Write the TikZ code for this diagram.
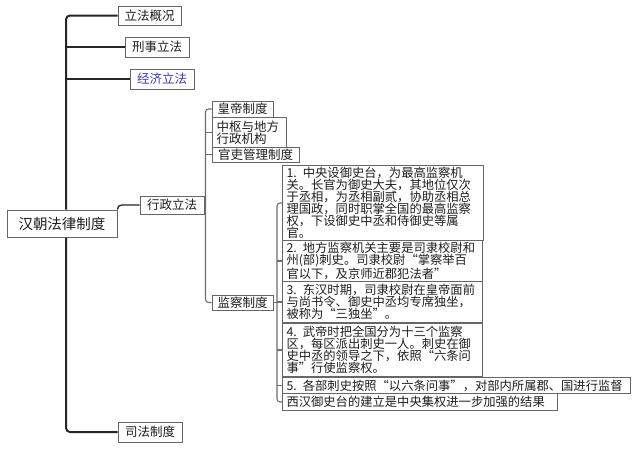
\documentclass[tikz,border=0pt]{standalone}
\usepackage{fontspec}
\setmainfont{Noto Sans CJK SC}
\definecolor{boxc}{HTML}{666666}
\definecolor{txt}{HTML}{1E1E1E}
\definecolor{blu}{HTML}{3A3AA8}
\definecolor{spinec}{HTML}{262626}
\definecolor{linec}{HTML}{6E6E6E}
\begin{document}
\begin{tikzpicture}[x=1pt,y=-1pt,
  box/.style={draw=boxc, line width=1pt, fill=white, inner sep=0pt, text=txt,
    font=\fontsize{12.5}{13}\selectfont},
  tbox/.style={box, anchor=north west, align=left, inner xsep=4pt, inner ysep=0pt,
    font=\fontsize{12.3}{11.9}\selectfont},
  spine/.style={draw=spinec, line width=2pt, rounded corners=4pt},
  br1/.style={draw=spinec, line width=1.3pt, rounded corners=4pt},
  br2/.style={draw=linec, line width=1.1pt, rounded corners=3pt}]
\useasboundingbox[fill=white] (0,0) rectangle (640,448);
\coordinate (sp) at (66,0);
\coordinate (v2) at (205.5,0);
\coordinate (v3) at (277,0);
% level 1
\node[box, minimum width=63pt, minimum height=19pt] (lf) at (149.5,15.5) {立法概况};
\node[box, minimum width=64pt, minimum height=20pt] (xs) at (157,47) {刑事立法};
\node[box, minimum width=64pt, minimum height=20pt, text=blu] (jj) at (162,79) {经济立法};
\node[box, minimum width=110pt, minimum height=27pt, font=\fontsize{14.5}{15}\selectfont] (hc) at (62,223.5) {汉朝法律制度};
\node[box, minimum width=64pt, minimum height=18pt] (xz) at (172,205) {行政立法};
\node[box, minimum width=64pt, minimum height=20pt] (sf) at (150,432) {司法制度};
% level 2
\node[box, minimum width=61pt, minimum height=16pt] (hd) at (242.5,109) {皇帝制度};
\node[box, anchor=north west, align=left, inner xsep=4pt, text width=66pt, minimum height=30pt,
  font=\fontsize{12.5}{12.5}\selectfont] (zs) at (212,117) {中枢与地方\\行政机构};
\node[box, minimum width=87pt, minimum height=15pt] (gl) at (255.5,154.5) {官吏管理制度};
\node[box, minimum width=61pt, minimum height=15pt] (jc) at (242.5,302.5) {监察制度};
% level 3
\node[tbox, text width=193pt, minimum height=75pt] (b1) at (282,165)
 {1. 中央设御史台，为最高监察机\\关。长官为御史大夫，其地位仅次\\于丞相，为丞相副贰，协助丞相总\\理国政，同时职掌全国的最高监察\\权，下设御史中丞和侍御史等属\\官。};
\node[tbox, text width=192pt, minimum height=41pt] (b2) at (282,240)
 {2. 地方监察机关主要是司隶校尉和\\州(部)刺史。司隶校尉“掌察举百\\官以下，及京师近郡犯法者”};
\node[tbox, text width=192pt, minimum height=41pt] (b3) at (282,281)
 {3. 东汉时期，司隶校尉在皇帝面前\\与尚书令、御史中丞均专席独坐，\\被称为“三独坐”。};
\node[tbox, text width=192pt, minimum height=53pt] (b4) at (282,323)
 {4. 武帝时把全国分为十三个监察\\区，每区派出刺史一人。刺史在御\\史中丞的领导之下，依照“六条问\\事”行使监察权。};
\node[tbox, text width=340pt, minimum height=16pt] (b5) at (282,377)
 {5. 各部刺史按照“以六条问事”，对部内所属郡、国进行监督};
\node[tbox, text width=267pt, minimum height=17pt] (b6) at (282,393)
 {西汉御史台的建立是中央集权进一步加强的结果};
% level 1 connectors
\draw[spine] (lf.west) -| (hc.north -| sp);
\draw[br1] (xs.west) -- (xs.west -| sp);
\draw[br1] (jj.west) -- (jj.west -| sp);
\draw[spine] (hc.south -| sp) |- (sf.west);
\draw[br1] (hc.north east) |- (xz.west);
% level 2 connectors
\draw[br2] (hd.west) -| (xz.east -| v2) |- (jc.west);
\draw[br2] (zs.west) -- (zs.west -| v2);
\draw[br2] (gl.west) -- (gl.west -| v2);
\draw[br2] (xz.east) -- (xz.east -| v2);
% level 3 connectors
\draw[br2] (b1.west) -| (b3.west -| v3) |- (b6.west);
\draw[br2] (b2.west) -- (b2.west -| v3);
\draw[br2] (b3.west) -- (b3.west -| v3);
\draw[br2] (b4.west) -- (b4.west -| v3);
\draw[br2] (b5.west) -- (b5.west -| v3);
\draw[br2] (jc.east) -- (jc.east -| v3);
\end{tikzpicture}
\end{document}
